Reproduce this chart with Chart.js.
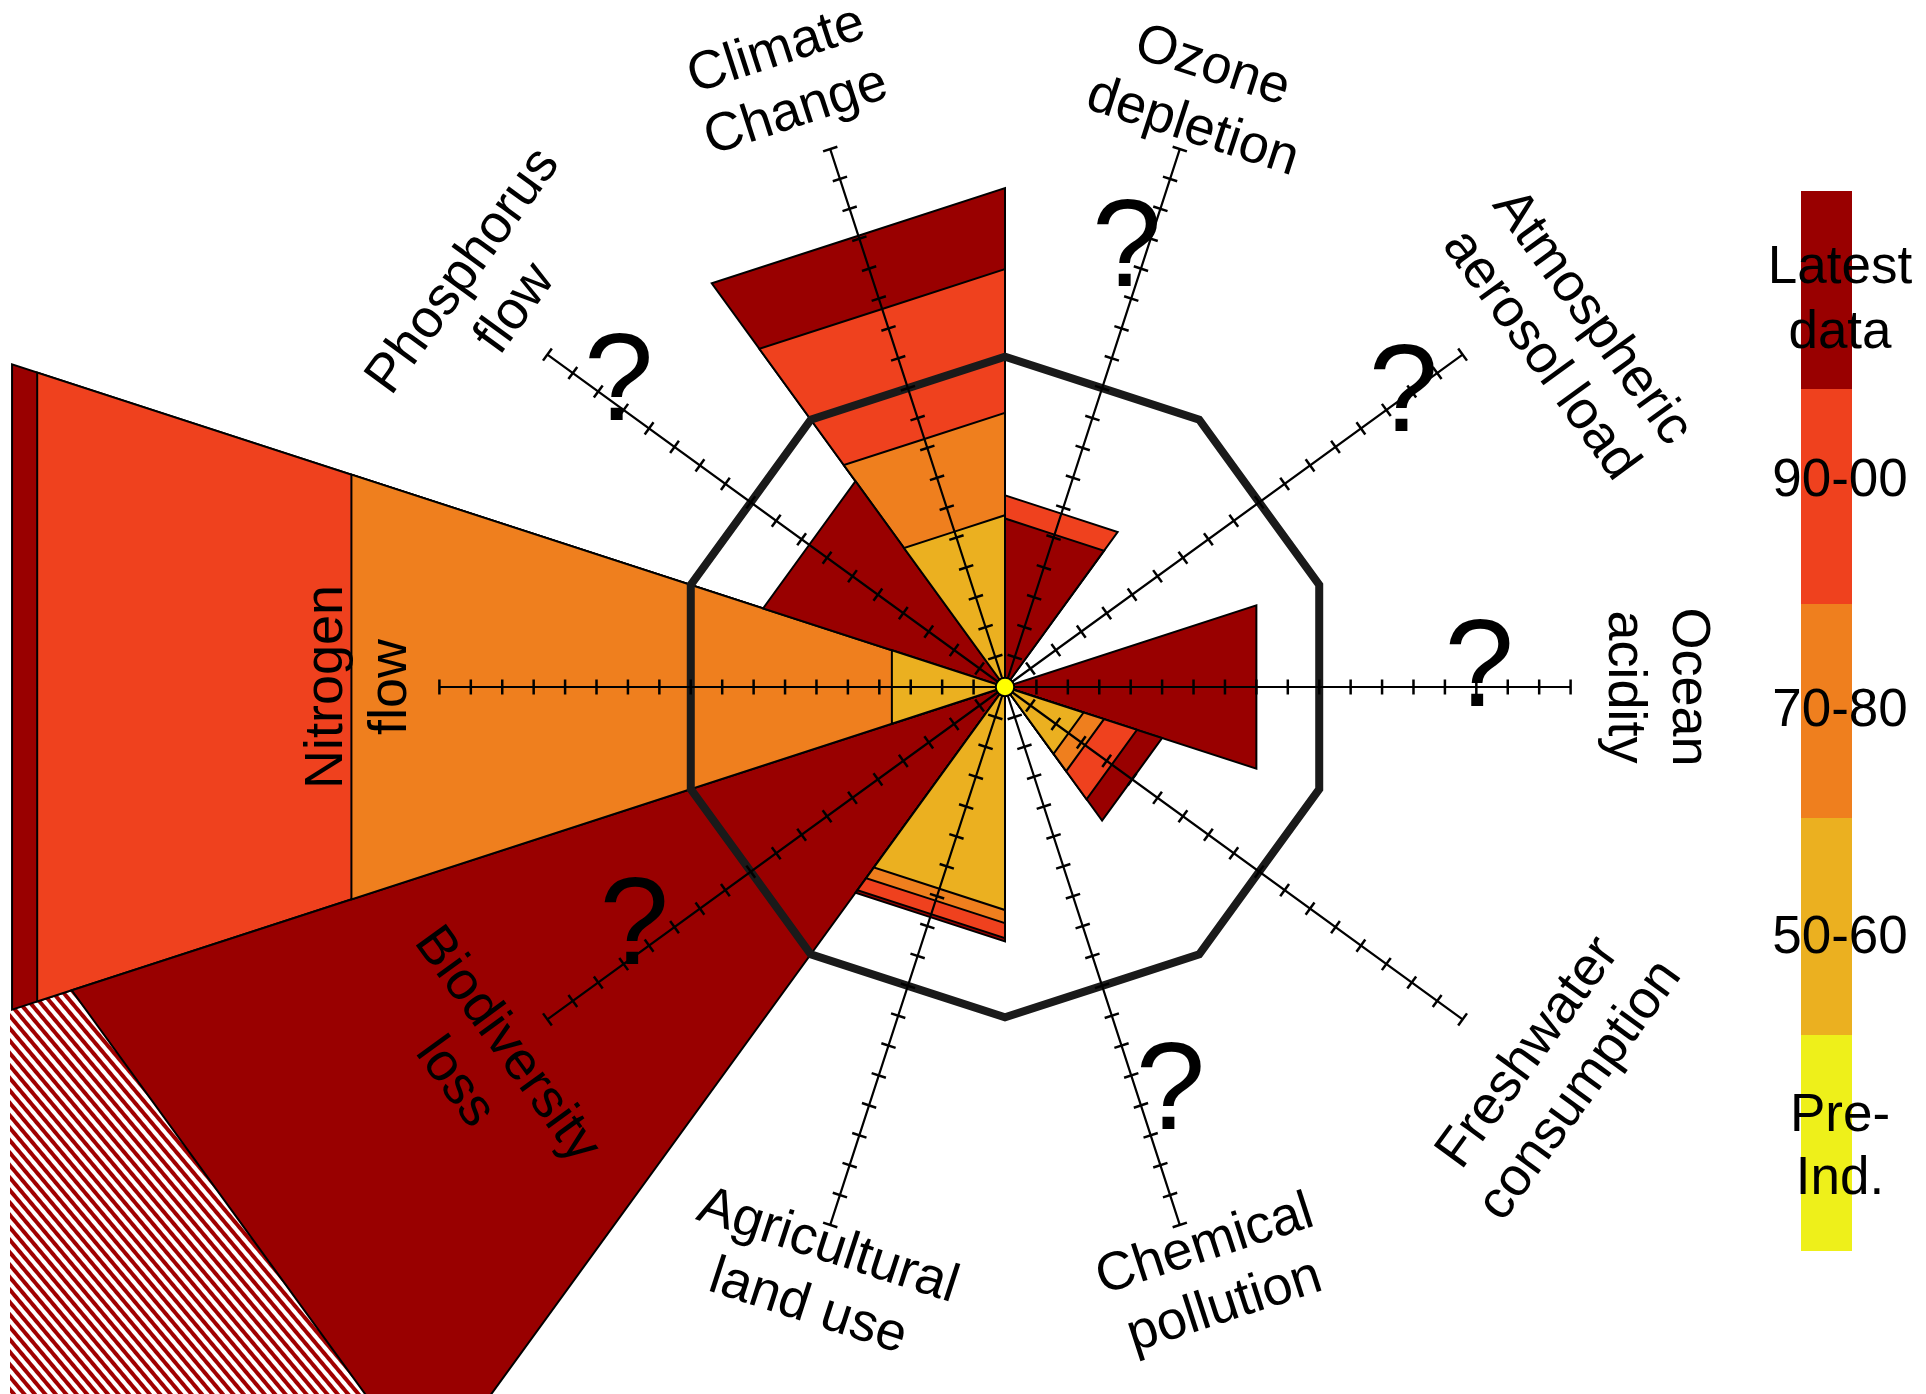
<!DOCTYPE html>
<html>
<head>
<meta charset="utf-8">
<title>Planetary boundaries</title>
<script src="https://cdn.jsdelivr.net/npm/chart.js@4.4.1/dist/chart.umd.min.js"></script>
<style>
  html, body { margin: 0; padding: 0; background: #fff; }
  body { position: relative; width: 1926px; height: 1394px; overflow: hidden; font-family: "Liberation Sans", Arial, sans-serif; }
  #boundaries { position: absolute; left: 10px; top: -20px; }
  .keybox { position: absolute; left: 1801px; width: 51px; }
  .keytxt { position: absolute; left: 1740px; width: 200px; text-align: center; font-size: 53px; line-height: 53px; color: #000; white-space: nowrap; }
</style>
</head>
<body>
<canvas id="boundaries" width="1990" height="1414"></canvas>
<div id="key"></div>
<script>
// boundaries, clockwise from the right. safe limit = 10 on every axis
var categories = ["Ocean acidity", "Freshwater consumption", "Chemical pollution", "Agricultural land use",
  "Biodiversity loss", "Nitrogen flow", "Phosphorus flow", "Climate Change", "Ozone depletion", "Atmospheric aerosol load"];
var safeLimit = [10, 10, 10, 10, 10, 10, 10, 10, 10, 10];

var latest    = [8.0, 5.0, null, 7.7, 29.7, 31.6, 7.7, 15.1, 5.1, null];
var nineties  = [null, 4.2, null, 7.6, null, 30.8, null, 12.65, 5.8, null];
var seventies = [null, 3.15, null, 7.15, null, 20.8, null, 8.3, null, null];
var fifties   = [null, 2.5, null, 6.75, null, 3.6, null, 5.2, null, null];
var preIndustrial = [0, 0, 0, 0, 0, 0, 0, 0, 0, 0];
// biodiversity runs off the page: hatched past the latest value
var offScale = [null, null, null, null, 60, null, null, null, null, null];
// where the question marks sit (not yet quantified)
var questionAt = [15.1, null, 14.0, null, 14.1, null, 15.6, null, 14.4, 15.7];

var axisLength = 18;
var tickValues = [1, 2, 3, 4, 5, 6, 7, 8, 9, 10, 11, 12, 13, 14, 15, 16, 17, 18];

var periods = ["Latest data", "90-00", "70-80", "50-60", "Pre-Ind."];
var periodColors = ["#990000", "#ef411e", "#ef7f1e", "#ebb020", "#eef01a"];

// label placement round the wheel
var labelDist = [20.7, 21.35, 19.9, 19.7, 20.55, 20.55, 20.7, 20.5, 19.8, 21.05];
var labelTurn = [0, -1, -1.6, -0.4, 0.3, 0, 1.6, -1.85, 0.5, 4];
var labelRot = [90, -54, -18, 18, 54, -90, -54, -18, 18, 54];
var questionTurn = [-1.85, 0, -4.1, 0, 2.8, 0, 2, 0, -2.4, -0.1];

// every boundary gets its axis plus an empty spoke half way to the next one
var spokes = [];
categories.forEach(function (c) { spokes.push(c, ''); });
var half = Math.cos(Math.PI / 10);

function wedge(i, v) {
  return spokes.map(function (s, k) {
    if (k === 2 * i) return v;
    if (k === 2 * i + 1 || k === (2 * i + 19) % 20) return v / half;
    return 0;
  });
}

var canvas = document.getElementById('boundaries');

var tile = document.createElement('canvas');
tile.width = 8; tile.height = 8;
var tctx = tile.getContext('2d');
tctx.fillStyle = '#fff'; tctx.fillRect(0, 0, 8, 8);
tctx.fillStyle = '#a00000'; tctx.fillRect(0, 0, 8, 4);
var stripes = canvas.getContext('2d').createPattern(tile, 'repeat');
stripes.setTransform(new DOMMatrix().rotate(50));

var sets = [];
offScale.forEach(function (v, i) {
  if (v == null) return;
  sets.push({ data: wedge(i, v), backgroundColor: stripes, borderWidth: 0, order: 1000 });
});
[latest, nineties, seventies, fifties].forEach(function (series, p) {
  series.forEach(function (v, i) {
    if (v == null) return;
    // bigger wedge goes underneath
    sets.push({ label: periods[p], data: wedge(i, v), backgroundColor: periodColors[p],
      borderColor: '#000', borderWidth: 2, order: v });
  });
});
sets.push({
  label: 'boundary',
  data: spokes.map(function (s, k) {
    if (k % 2 === 0) return safeLimit[k / 2];
    return (safeLimit[(k - 1) / 2] + safeLimit[((k + 1) / 2) % 10]) / 2 / half;
  }),
  fill: false, borderColor: '#1a1a1a', borderWidth: 8, order: -10
});
sets.push({
  label: 'axes',
  data: spokes.map(function (s, k) { return k % 2 ? 0 : axisLength; }),
  fill: false, borderColor: '#000', borderWidth: 2.2, borderJoinStyle: 'bevel', order: -20
});
tickValues.forEach(function (t) {
  sets.push({
    data: spokes.map(function (s, k) { return k % 2 ? null : t; }),
    showLine: false, fill: false, pointStyle: 'line', pointRadius: 7.5,
    pointBorderWidth: 2.5, pointBorderColor: '#000',
    pointRotation: function (c) { return c.dataIndex * 18 + 90; },
    order: -30
  });
});
sets.push({
  label: periods[4],
  data: spokes.map(function (s, k) { return k % 2 ? null : preIndustrial[k / 2]; }),
  showLine: false, fill: false, pointRadius: 9, pointBackgroundColor: '#ffff00',
  pointBorderColor: '#000', pointBorderWidth: 1.5, order: -40
});

var boundaryText = {
  id: 'boundaryText',
  afterDatasetsDraw: function (chart) {
    var ctx = chart.ctx, r = chart.scales.r;
    function at(i, dist, turn) {
      var a = r.getIndexAngle(2 * i) - Math.PI / 2 + turn * Math.PI / 180;
      var d = r.getDistanceFromCenterForValue(dist);
      return { x: r.xCenter + Math.cos(a) * d, y: r.yCenter + Math.sin(a) * d };
    }
    ctx.save();
    ctx.fillStyle = '#000';
    ctx.textAlign = 'center';
    ctx.textBaseline = 'middle';
    ctx.font = '54px "Liberation Sans", Arial, sans-serif';
    categories.forEach(function (name, i) {
      var cut = name.indexOf(' ');
      var p = at(i, labelDist[i], labelTurn[i]);
      ctx.save();
      ctx.translate(p.x, p.y);
      ctx.rotate(labelRot[i] * Math.PI / 180);
      ctx.fillText(name.slice(0, cut), 0, -32);
      ctx.fillText(name.slice(cut + 1), 0, 32);
      ctx.restore();
    });
    ctx.font = '125px "Liberation Sans", Arial, sans-serif';
    questionAt.forEach(function (d, i) {
      if (d == null) return;
      var p = at(i, d, questionTurn[i]);
      ctx.fillText('?', p.x, p.y);
    });
    ctx.restore();
  }
};

new Chart(canvas, {
  type: 'radar',
  data: { labels: spokes, datasets: sets },
  options: {
    responsive: false,
    devicePixelRatio: 1,
    animation: false,
    events: [],
    elements: { point: { radius: 0 }, line: { tension: 0, fill: 'start' } },
    plugins: { legend: { display: false }, tooltip: { enabled: false } },
    scales: {
      r: {
        min: 0, max: 22.5, startAngle: 90,
        ticks: { display: false },
        grid: { display: false },
        angleLines: { display: false },
        pointLabels: { display: false }
      }
    }
  },
  plugins: [boundaryText]
});

// colour key on the right
var keyEdges = [191, 389, 604, 818, 1035, 1251];
var keyText = [[264, 329], [477], [707], [934], [1112, 1175]];
var key = document.getElementById('key');
periods.forEach(function (name, p) {
  var box = document.createElement('div');
  box.className = 'keybox';
  box.style.top = keyEdges[p] + 'px';
  box.style.height = (keyEdges[p + 1] - keyEdges[p]) + 'px';
  box.style.background = periodColors[p];
  key.appendChild(box);
});
periods.forEach(function (name, p) {
  var lines = name === 'Pre-Ind.' ? ['Pre-', 'Ind.'] : name.split(' ');
  lines.forEach(function (txt, j) {
    var t = document.createElement('div');
    t.className = 'keytxt';
    t.style.top = (keyText[p][j] - 26) + 'px';
    t.textContent = txt;
    key.appendChild(t);
  });
});
</script>
</body>
</html>
